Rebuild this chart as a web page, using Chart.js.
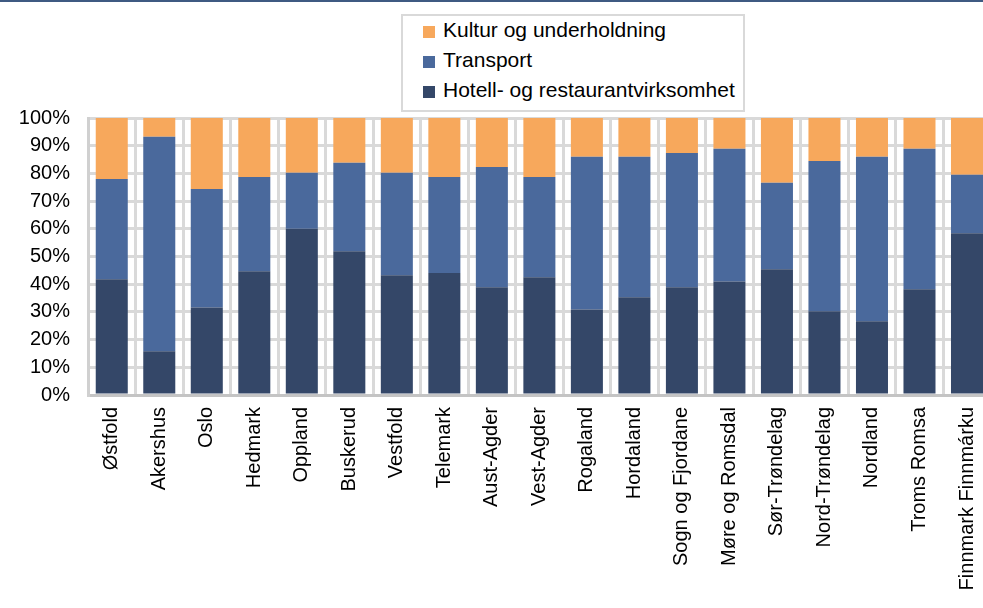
<!DOCTYPE html>
<html>
<head>
<meta charset="utf-8">
<script src="https://cdn.jsdelivr.net/npm/chart.js@4"></script>
<style>
  html, body { margin: 0; padding: 0; background: #fff; overflow: hidden; }
  body { width: 983px; height: 608px; position: relative; font-family: "Liberation Sans", Arial, sans-serif; }
  .topline { position: absolute; left: 0; top: 0; width: 983px; height: 2px; background: #3f5a82; z-index: 2; }
  .wrap { position: absolute; left: 0; top: 0; width: 1003px; height: 608px; }
  .legend { position: absolute; left: 401px; top: 14px; width: 340px; height: 94px; border: 2px solid #d9d9d9; background: #fff; }
  .legend .item { position: absolute; left: 20px; height: 22px; line-height: 22px; font-size: 21px; color: #000; white-space: nowrap; }
  .legend .box { display: inline-block; width: 12px; height: 12px; margin-right: 8px; vertical-align: -1px; }
</style>
</head>
<body>
<div class="topline"></div>
<div class="wrap"><canvas id="regionChart"></canvas></div>
<div class="legend" id="legend"></div>
<script>
const regions = [
  "Østfold", "Akershus", "Oslo", "Hedmark", "Oppland", "Buskerud", "Vestfold",
  "Telemark", "Aust-Agder", "Vest-Agder", "Rogaland", "Hordaland", "Sogn og Fjordane",
  "Møre og Romsdal", "Sør-Trøndelag", "Nord-Trøndelag", "Nordland", "Troms Romsa",
  "Finnmark Finnmárku"
];

// andeler i prosent, leses nedenfra og opp
const hotell = [41.8, 15.8, 31.6, 44.7, 60.0, 51.9, 43.2, 44.0, 38.9, 42.5, 30.9, 35.3, 38.9, 41.0, 45.4, 30.2, 26.6, 38.2, 58.4];
const transport = [36.2, 77.4, 42.8, 34.0, 20.2, 31.9, 37.0, 34.7, 43.4, 36.2, 55.1, 50.7, 48.5, 47.9, 31.2, 54.3, 59.4, 50.7, 21.1];
const kultur = [22.0, 6.8, 25.6, 21.3, 19.8, 16.2, 19.8, 21.3, 17.7, 21.3, 14.0, 14.0, 12.6, 11.1, 23.4, 15.5, 14.0, 11.1, 20.5];

const yTicks = [0, 10, 20, 30, 40, 50, 60, 70, 80, 90, 100];

const FONT = "'Liberation Sans', Arial, sans-serif";

const ctx = document.getElementById("regionChart");

const chart = new Chart(ctx, {
  type: "bar",
  data: {
    labels: regions,
    datasets: [
      { label: "Hotell- og restaurantvirksomhet", data: hotell, backgroundColor: "#344768" },
      { label: "Transport", data: transport, backgroundColor: "#4a699c" },
      { label: "Kultur og underholdning", data: kultur, backgroundColor: "#f7a85c" },
    ],
  },
  options: {
    responsive: true,
    maintainAspectRatio: false,
    animation: false,
    layout: { padding: { top: 118, left: 0, right: 0, bottom: 0 } },
    datasets: {
      bar: { barPercentage: 0.674, categoryPercentage: 1 },
    },
    plugins: {
      legend: { display: false },
      tooltip: { enabled: false },
    },
    scales: {
      x: {
        stacked: true,
        afterFit: (scale) => { scale.height = 608 - 395; },
        grid: { offset: true, color: "#d9d9d9", lineWidth: 3, drawTicks: false },
        border: { color: "#c4c4c4", width: 3 },
        ticks: {
          minRotation: 90,
          maxRotation: 90,
          autoSkip: false,
          padding: 12,
          color: "#000",
          font: { family: FONT, size: 20 },
        },
      },
      y: {
        stacked: true,
        min: 0,
        max: 100,
        afterFit: (scale) => { scale.width = 88; },
        afterBuildTicks: (scale) => { scale.ticks = yTicks.map((v) => ({ value: v })); },
        grid: { color: "#d9d9d9", lineWidth: 3, drawTicks: false },
        border: { color: "#d0d0d0", width: 3 },
        ticks: {
          padding: 18,
          color: "#000",
          font: { family: FONT, size: 20 },
          callback: (v) => v + "%",
        },
      },
    },
  },
});

// legenden bygges fra datasettene, øverste serie først
const legend = document.getElementById("legend");
chart.data.datasets.slice().reverse().forEach((ds, i) => {
  const item = document.createElement("div");
  item.className = "item";
  item.style.top = (3 + i * 30) + "px";
  item.innerHTML = '<span class="box" style="background:' + ds.backgroundColor + '"></span>' + ds.label;
  legend.appendChild(item);
});
</script>
</body>
</html>
